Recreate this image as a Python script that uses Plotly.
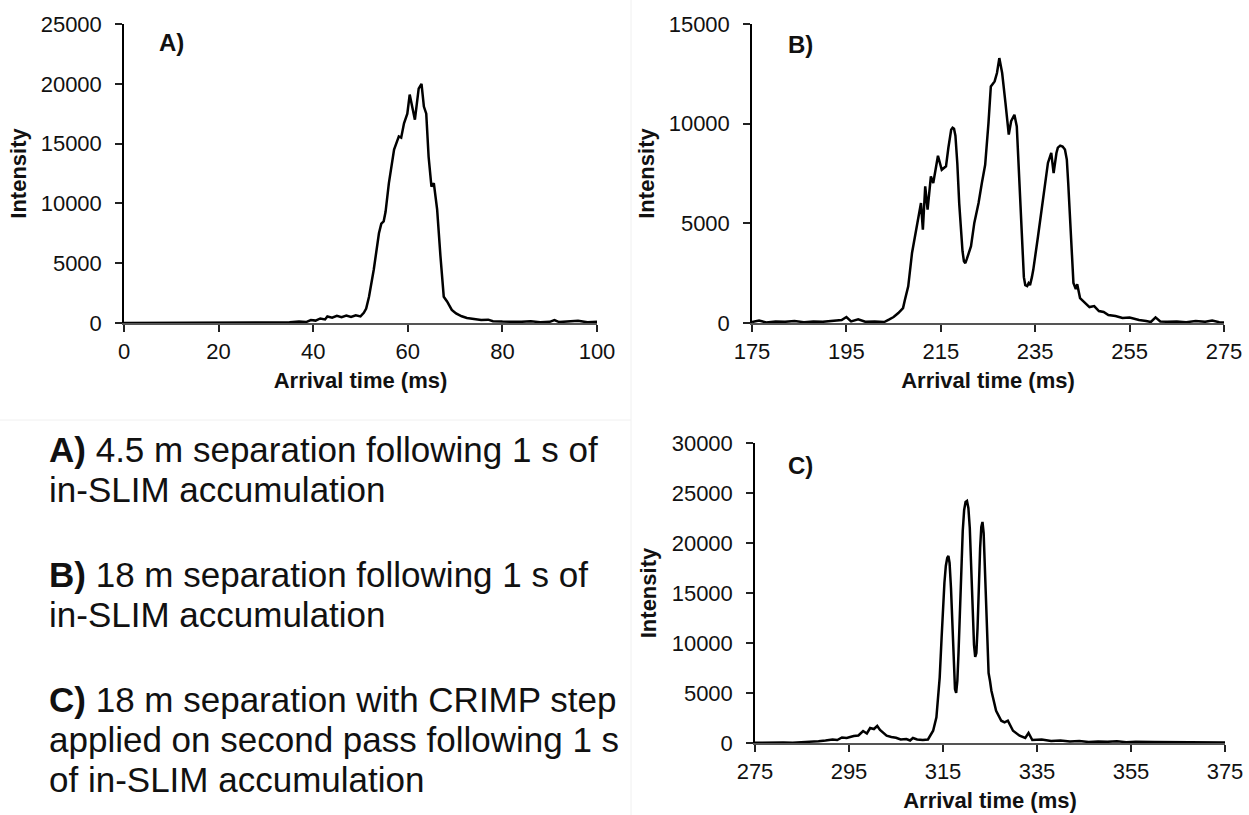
import plotly.graph_objects as go

# ---------------- data ----------------
a_time = [0, 5, 10, 15, 20, 25, 30, 33, 35, 37, 38.5, 39.5, 40.5, 41.5, 42.5, 43, 44, 45, 46, 47, 48, 49, 50,
          50.7, 51.2, 51.8, 52.8, 53.9, 54.4, 54.9, 55.3, 56, 57.1, 58.1, 58.6, 59.2, 59.9, 60.4, 61, 61.5,
          62.3, 62.9, 63.4, 63.9, 64.4, 65, 65.5, 66.2, 66.9, 67.6, 68.3, 68.8, 69.3, 70.2, 71.4, 72.5, 74.2,
          75.5, 77, 78, 80, 82, 84, 86, 88, 90, 91, 92, 94, 96, 98, 100]
a_int = [0, 0, 0, 0, 0, 0, 0, 20, 60, 120, 80, 250, 200, 380, 300, 550, 450, 600, 480, 620, 500, 650, 550,
         850, 1200, 2200, 4450, 7500, 8300, 8500, 9300, 11700, 14500, 15600, 15500, 16700, 17500, 19100, 18000, 17000,
         19600, 20000, 18100, 17500, 13900, 11400, 11700, 9500, 5600, 2200, 1800, 1400, 1100, 800, 560, 420, 330,
         250, 280, 150, 120, 80, 100, 150, 60, 100, 250, 80, 120, 180, 60, 100]

b_time = [175, 176.5, 178, 180, 182, 184, 186, 188, 190, 192, 194, 195, 196, 197.5, 199, 201, 203, 204, 205,
          206, 207, 207.4, 208.1, 208.9, 209.9, 210.8, 211.2, 211.7, 212.2, 212.9, 213.4, 214.4, 215.2, 216.1,
          216.6, 217.2, 217.5, 217.8, 218.1, 218.5, 218.9, 219.3, 219.6, 219.9, 220.2, 220.5, 220.9, 221.4,
          222.1, 223, 223.7, 224.4, 225.1, 225.6, 226.4, 226.9, 227.4, 228, 228.7, 229.4, 229.9, 230.6, 231.1,
          231.8, 232.3, 232.6, 232.9, 233.3, 233.6, 233.9, 234.3, 234.6, 235.6, 236.4, 237.1, 237.7, 238.4,
          238.9, 239.5, 239.8, 240.3, 240.8, 241.3, 241.7, 242.0, 242.4, 243.1, 243.6, 243.9, 244.5, 245.6,
          246.5, 247.5, 248.5, 249.5, 250.5, 252, 253.5, 255, 257, 258.5, 259.5, 260.5, 261.5, 263, 265, 267,
          269, 271, 272.5, 274, 275]
b_int = [50, 120, 30, 80, 60, 100, 40, 80, 60, 100, 150, 300, 80, 180, 60, 80, 50, 170, 300,
         500, 750, 1170, 1840, 3510, 4850, 6020, 4680, 6860, 5690, 7360, 7020, 8390, 7690, 7860,
         8780, 9700, 9800, 9750, 9400, 8000, 6000, 4500, 3600, 3100, 3000, 3200, 3510, 3850,
         5020, 6020, 7020, 7940, 10030, 11870, 12120, 12540, 13290, 12540, 11040, 9450, 10120, 10450, 9860,
         6350, 3340, 2300, 1900, 1850, 2000, 1900, 2300, 2680, 4350, 5850, 7020, 8030, 8530,
         7520, 8530, 8800, 8900, 8850, 8700, 8200, 7000, 5350, 2010, 1700, 1950, 1250, 1000,
         800, 850, 600, 550, 400, 350, 250, 280, 150, 100, 50, 280, 80, 60, 80, 40,
         100, 60, 120, 40, 20]

c_time = [275, 277, 279, 281, 283, 285, 287, 288.5, 290, 291.5, 292.5, 293.5, 294.5, 296, 297, 298, 298.8,
          299.5, 300.3, 301, 301.6, 302.3, 303, 304, 305, 306, 307.2, 308, 308.6, 309.5, 310.7, 311.8, 312.9,
          313.6, 314.3, 314.7, 315.0, 315.3, 315.6, 315.9, 316.15, 316.4, 316.7, 317.0, 317.3, 317.55, 317.8,
          318.05, 318.3, 318.6, 318.9, 319.2, 319.5, 319.8, 320.1, 320.4, 320.7, 321.0, 321.3, 321.6, 321.85,
          322.1, 322.35, 322.6, 322.9, 323.15, 323.4, 323.65, 323.9, 324.2, 324.45, 324.7, 325.0, 325.3,
          326.3, 327.4, 328.1, 328.8, 329.9, 331.3, 332.5, 333.2, 334, 336, 338, 340, 342, 344, 346, 348,
          350, 352, 354, 356, 360, 364, 368, 372, 375]
c_int = [20, 50, 10, 40, 30, 60, 100, 180, 250, 350, 300, 550, 500, 700, 750, 1200, 950,
         1500, 1400, 1700, 1300, 1000, 730, 600, 520, 350, 400, 250, 500, 350, 300, 350, 1230,
         2560, 6560, 10500, 13550, 16000, 17700, 18500, 18700, 18000, 15500, 11220, 7500, 5400, 5000,
         6200, 9000, 13500, 17800, 21200, 23300, 24100, 24200, 23500, 21500, 17500, 13000, 9800, 8600,
         9000, 11500, 15500, 19500, 21600, 22100, 21000, 17500, 12000, 8500, 7000, 6200, 5230,
         3230, 2230, 2060, 2230, 1230, 730, 500, 1000, 300, 350, 200, 250, 150, 200, 100, 150,
         120, 180, 80, 120, 100, 80, 120, 60, 40]

panel_labels = ["A)", "B)", "C)"]
x_title = "Arrival time (ms)"
y_title = "Intensity"
caption_lines = [
    "<b>A)</b> 4.5 m separation following 1 s of",
    "in-SLIM accumulation",
    "<b>B)</b> 18 m separation following 1 s of",
    "in-SLIM accumulation",
    "<b>C)</b> 18 m separation with CRIMP step",
    "applied on second pass following 1 s",
    "of in-SLIM accumulation",
]

# ---------------- figure ----------------
W, H = 1249, 815
FONT = "Liberation Sans, Arial, sans-serif"

def px_x(p):
    return p / W

def px_y(p):
    return 1 - p / H

fig = go.Figure()

series = [(a_time, a_int, "x", "y"), (b_time, b_int, "x2", "y2"), (c_time, c_int, "x3", "y3")]
for xs, ys, xa, ya in series:
    fig.add_trace(go.Scatter(x=xs, y=ys, mode="lines", xaxis=xa, yaxis=ya,
                             line=dict(color="black", width=2.5), showlegend=False,
                             hoverinfo="x+y"))

tickfont = dict(family=FONT, size=22, color="#111")
titlefont = dict(family=FONT, size=22, color="#111")

def xaxis_cfg(dom, rng, anchor):
    return dict(domain=dom, range=rng, anchor=anchor, tickmode="linear", tick0=rng[0], dtick=20,
                showline=True, linecolor="#555", linewidth=2, ticks="outside", ticklen=7,
                tickwidth=1.5, tickcolor="#222", showgrid=False, zeroline=False,
                tickfont=tickfont, ticklabelstandoff=1, automargin=False,
                title=dict(text="<b>%s</b>" % x_title, font=titlefont, standoff=9))

def yaxis_cfg(dom, rng, anchor, standoff):
    return dict(domain=dom, range=rng, anchor=anchor, tickmode="linear", tick0=0, dtick=5000,
                tickformat="d",
                showline=True, linecolor="black", linewidth=1.5, ticks="outside", ticklen=7,
                tickwidth=1.5, tickcolor="#222", showgrid=False, zeroline=False,
                tickfont=tickfont, ticklabelstandoff=9, automargin=False,
                title=dict(text="<b>%s</b>" % y_title, font=titlefont, standoff=standoff))

yA = [px_y(323), px_y(24)]
yC = [px_y(743), px_y(443)]
fig.update_layout(
    template="none",
    width=W, height=H, autosize=False,
    margin=dict(l=0, r=0, t=0, b=0, pad=0),
    paper_bgcolor="white", plot_bgcolor="white",
    xaxis=xaxis_cfg([px_x(124), px_x(597)], [0, 100], "y"),
    yaxis=yaxis_cfg(yA, [0, 25000], "x", 8),
    xaxis2=xaxis_cfg([px_x(752), px_x(1224)], [175, 275], "y2"),
    yaxis2=yaxis_cfg(yA, [0, 15000], "x2", 8),
    xaxis3=xaxis_cfg([px_x(755), px_x(1225)], [275, 375], "y3"),
    yaxis3=yaxis_cfg(yC, [0, 30000], "x3", 9),
)

# panel labels
for lab, xp, yp in zip(panel_labels, [157, 786, 786], [42, 44, 465]):
    fig.add_annotation(text="<b>%s</b>" % lab, x=px_x(xp), y=px_y(yp), xref="paper", yref="paper",
                       xanchor="left", yanchor="middle", showarrow=False,
                       font=dict(family=FONT, size=24, color="#111"))

# caption text block
baselines = [462, 502, 587, 627, 712, 752, 792]
CAP = 35
for line, bl in zip(caption_lines, baselines):
    fig.add_annotation(text=line, x=px_x(47), y=px_y(bl - 0.36 * CAP), xref="paper", yref="paper",
                       xanchor="left", yanchor="middle", showarrow=False,
                       font=dict(family=FONT, size=CAP, color="#111"))

# faint panel separators
fig.add_shape(type="line", xref="paper", yref="paper", x0=px_x(631), x1=px_x(631), y0=0, y1=1,
              line=dict(color="#f0f0f0", width=1))
fig.add_shape(type="line", xref="paper", yref="paper", x0=0, x1=px_x(631), y0=px_y(420), y1=px_y(420),
              line=dict(color="#f0f0f0", width=1))

fig.write_html("out.html", config={"displayModeBar": False},
               post_script="document.body.style.margin='0';document.body.style.overflow='hidden';")
